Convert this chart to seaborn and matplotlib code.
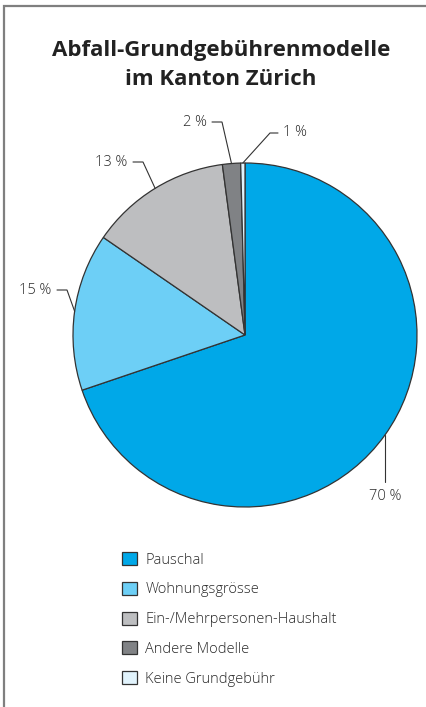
import matplotlib
matplotlib.use("Agg")
import matplotlib.pyplot as plt
import seaborn as sns
import numpy as np

# ---- data ----
categories = ["Pauschal", "Wohnungsgrösse", "Ein-/Mehrpersonen-Haushalt",
              "Andere Modelle", "Keine Grundgebühr"]
values = [69.8, 14.8, 13.3, 1.7, 0.4]
value_labels = ["70 %", "15 %", "13 %", "2 %", "1 %"]
colors = ["#00A8E8", "#6DCFF6", "#BDBEC0", "#808285", "#E1F3FC"]
title = "Abfall-Grundgebührenmodelle\nim Kanton Zürich"

sns.set_theme(style="white")
plt.rcParams['font.family'] = ['Open Sans', 'DejaVu Sans']

W, H = 427, 707
fig = plt.figure(figsize=(W / 100, H / 100), dpi=100)
ax = fig.add_axes([0, 0, 1, 1])

cx, cy, R = 245, 335, 172
wedges, _ = ax.pie(values, colors=colors, startangle=-90, counterclock=True,
                   center=(cx, cy), radius=R,
                   wedgeprops=dict(edgecolor="#333333", linewidth=0.9))
ax.set_xlim(0, W)
ax.set_ylim(H, 0)
ax.set_aspect('equal')
ax.axis('off')

txt_color = "#2a2a2a"
line_kw = dict(color="#333333", lw=0.8, solid_joinstyle='miter')

# leader layouts: (elbow points, text position, ha)
layouts = [
    ([("edge_x", 482)], ("edge_x", 497), "center"),
    ([(67, 290), (57, 290)], (51, 290), "right"),
    ([(143, 162), (133, 162)], (127, 162), "right"),
    ([(222, 122), (212, 122)], (207, 122), "right"),
    ([(270, 133), (278, 133)], (283, 133), "left"),
]
for w, lab, (pts, tpos, ha) in zip(wedges, value_labels, layouts):
    m = np.deg2rad((w.theta1 + w.theta2) / 2)
    ex, ey = cx + R * np.cos(m), cy + R * np.sin(m)
    xs, ys = [ex], [ey]
    for px, py in pts:
        xs.append(ex if px == "edge_x" else px)
        ys.append(py)
    ax.plot(xs, ys, **line_kw)
    tx = ex if tpos[0] == "edge_x" else tpos[0]
    ax.text(tx, tpos[1], lab, ha=ha, va="center", fontsize=10.5,
            color=txt_color, fontweight="light")

ax.text(221, 65, title, ha="center", va="center", fontsize=16.0,
        fontweight="bold", color="#222222", linespacing=1.45)

# frame (top and left)
ax.plot([4, 4, W], [H, 6, 6], color="#7f7f7f", lw=1.6, clip_on=False,
        solid_joinstyle='miter')

leg = fig.legend(wedges, categories, loc="upper left",
                 bbox_to_anchor=(122 / W, 1 - 552 / H), frameon=False,
                 fontsize=10.5, handlelength=1.0, handleheight=1.0,
                 handletextpad=0.6, labelspacing=0.98, borderpad=0,
                 borderaxespad=0)
for t in leg.get_texts():
    t.set_color(txt_color)
    t.set_fontweight("light")

fig.savefig("out.png", dpi=100)
